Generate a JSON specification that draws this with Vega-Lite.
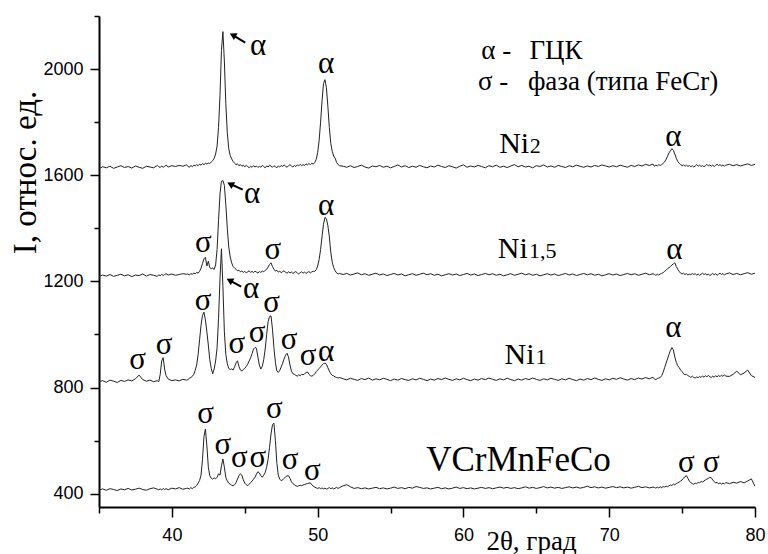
{
"$schema": "https://vega.github.io/schema/vega-lite/v6.json",
"width": 656, "height": 491,
"autosize": "none",
"padding": {"left": 99, "top": 16, "right": 13, "bottom": 47},
"background": "white",
"config": {"view": {"stroke": null}, "axis": {"grid": false}},
"datasets": {
"xrd": [
{"x":35.0,"a":1625,"b":1218,"c":822,"d":414},
{"x":35.25,"a":1632,"b":1224,"c":826,"d":418},
{"x":35.5,"a":1628,"b":1220,"c":820,"d":413},
{"x":35.75,"a":1634,"b":1226,"c":828,"d":419},
{"x":36.0,"a":1626,"b":1219,"c":824,"d":416},
{"x":36.25,"a":1631,"b":1223,"c":819,"d":412},
{"x":36.5,"a":1636,"b":1227,"c":827,"d":418},
{"x":36.75,"a":1629,"b":1221,"c":823,"d":415},
{"x":37.0,"a":1633,"b":1225,"c":829,"d":420},
{"x":37.25,"a":1627,"b":1218,"c":825,"d":414},
{"x":37.5,"a":1635,"b":1224,"c":833,"d":417},
{"x":37.75,"a":1630,"b":1222,"c":847,"d":421},
{"x":38.0,"a":1626,"b":1228,"c":830,"d":416},
{"x":38.25,"a":1634,"b":1220,"c":824,"d":413},
{"x":38.5,"a":1631,"b":1226,"c":828,"d":419},
{"x":38.75,"a":1628,"b":1223,"c":822,"d":422},
{"x":39.0,"a":1637,"b":1219,"c":826,"d":417},
{"x":39.1,"a":1632,"b":1225,"c":822,"d":415},
{"x":39.2,"a":1629,"b":1221,"c":850,"d":418},
{"x":39.3,"a":1635,"b":1227,"c":900,"d":414},
{"x":39.4,"a":1630,"b":1222,"c":913,"d":420},
{"x":39.5,"a":1633,"b":1226,"c":870,"d":416},
{"x":39.6,"a":1638,"b":1229,"c":845,"d":419},
{"x":39.75,"a":1631,"b":1224,"c":832,"d":415},
{"x":40.0,"a":1636,"b":1228,"c":826,"d":421},
{"x":40.25,"a":1633,"b":1223,"c":829,"d":418},
{"x":40.5,"a":1637,"b":1226,"c":825,"d":423},
{"x":40.75,"a":1634,"b":1229,"c":831,"d":417},
{"x":41.0,"a":1639,"b":1227,"c":828,"d":420},
{"x":41.1,"a":1634,"b":1228,"c":830,"d":421},
{"x":41.2,"a":1630,"b":1224,"c":835,"d":418},
{"x":41.3,"a":1637,"b":1230,"c":838,"d":423},
{"x":41.4,"a":1632,"b":1226,"c":842,"d":419},
{"x":41.5,"a":1638,"b":1232,"c":850,"d":424},
{"x":41.6,"a":1635,"b":1228,"c":865,"d":426},
{"x":41.7,"a":1640,"b":1234,"c":885,"d":431},
{"x":41.8,"a":1636,"b":1231,"c":925,"d":440},
{"x":41.9,"a":1642,"b":1238,"c":980,"d":450},
{"x":42.0,"a":1638,"b":1250,"c":1035,"d":470},
{"x":42.1,"a":1644,"b":1268,"c":1072,"d":530},
{"x":42.2,"a":1640,"b":1285,"c":1084,"d":615},
{"x":42.3,"a":1645,"b":1291,"c":1055,"d":644},
{"x":42.4,"a":1642,"b":1258,"c":1010,"d":580},
{"x":42.5,"a":1646,"b":1276,"c":960,"d":500},
{"x":42.6,"a":1644,"b":1252,"c":905,"d":468},
{"x":42.7,"a":1650,"b":1248,"c":872,"d":458},
{"x":42.8,"a":1655,"b":1250,"c":852,"d":455},
{"x":42.9,"a":1664,"b":1245,"c":870,"d":460},
{"x":43.0,"a":1680,"b":1262,"c":900,"d":456},
{"x":43.1,"a":1710,"b":1320,"c":950,"d":462},
{"x":43.2,"a":1780,"b":1430,"c":1060,"d":475},
{"x":43.3,"a":1900,"b":1530,"c":1210,"d":470},
{"x":43.4,"a":2070,"b":1577,"c":1323,"d":505},
{"x":43.5,"a":2141,"b":1580,"c":1180,"d":531},
{"x":43.6,"a":2030,"b":1562,"c":1010,"d":500},
{"x":43.7,"a":1870,"b":1490,"c":925,"d":462},
{"x":43.8,"a":1760,"b":1400,"c":890,"d":448},
{"x":43.9,"a":1700,"b":1330,"c":872,"d":440},
{"x":44.0,"a":1675,"b":1292,"c":868,"d":436},
{"x":44.1,"a":1662,"b":1270,"c":870,"d":432},
{"x":44.2,"a":1652,"b":1256,"c":866,"d":430},
{"x":44.3,"a":1645,"b":1250,"c":878,"d":434},
{"x":44.4,"a":1640,"b":1246,"c":893,"d":442},
{"x":44.5,"a":1643,"b":1240,"c":901,"d":455},
{"x":44.6,"a":1636,"b":1242,"c":880,"d":468},
{"x":44.7,"a":1640,"b":1236,"c":866,"d":475},
{"x":44.8,"a":1634,"b":1239,"c":863,"d":470},
{"x":44.9,"a":1638,"b":1234,"c":868,"d":452},
{"x":45.0,"a":1632,"b":1238,"c":872,"d":440},
{"x":45.1,"a":1637,"b":1232,"c":880,"d":434},
{"x":45.2,"a":1633,"b":1236,"c":888,"d":430},
{"x":45.3,"a":1628,"b":1240,"c":900,"d":436},
{"x":45.4,"a":1634,"b":1234,"c":912,"d":442},
{"x":45.5,"a":1630,"b":1238,"c":928,"d":448},
{"x":45.6,"a":1636,"b":1233,"c":945,"d":455},
{"x":45.7,"a":1631,"b":1239,"c":951,"d":462},
{"x":45.8,"a":1635,"b":1235,"c":948,"d":474},
{"x":45.9,"a":1629,"b":1232,"c":915,"d":483},
{"x":46.0,"a":1634,"b":1237,"c":885,"d":478},
{"x":46.1,"a":1630,"b":1234,"c":870,"d":468},
{"x":46.2,"a":1637,"b":1239,"c":880,"d":462},
{"x":46.3,"a":1633,"b":1236,"c":905,"d":470},
{"x":46.4,"a":1628,"b":1242,"c":945,"d":480},
{"x":46.5,"a":1635,"b":1246,"c":1000,"d":500},
{"x":46.6,"a":1631,"b":1254,"c":1048,"d":530},
{"x":46.7,"a":1638,"b":1264,"c":1068,"d":575},
{"x":46.8,"a":1634,"b":1270,"c":1070,"d":625},
{"x":46.9,"a":1630,"b":1256,"c":1020,"d":660},
{"x":47.0,"a":1636,"b":1246,"c":950,"d":666},
{"x":47.1,"a":1632,"b":1239,"c":895,"d":600},
{"x":47.2,"a":1628,"b":1242,"c":862,"d":515},
{"x":47.3,"a":1635,"b":1235,"c":857,"d":470},
{"x":47.4,"a":1631,"b":1238,"c":865,"d":455},
{"x":47.5,"a":1637,"b":1233,"c":878,"d":449},
{"x":47.6,"a":1633,"b":1237,"c":892,"d":452},
{"x":47.7,"a":1639,"b":1240,"c":908,"d":458},
{"x":47.8,"a":1634,"b":1234,"c":922,"d":464},
{"x":47.9,"a":1630,"b":1231,"c":929,"d":467},
{"x":48.0,"a":1636,"b":1236,"c":915,"d":468},
{"x":48.1,"a":1640,"b":1232,"c":885,"d":458},
{"x":48.2,"a":1635,"b":1235,"c":862,"d":445},
{"x":48.3,"a":1631,"b":1230,"c":852,"d":438},
{"x":48.4,"a":1637,"b":1234,"c":850,"d":434},
{"x":48.5,"a":1633,"b":1237,"c":846,"d":430},
{"x":48.6,"a":1639,"b":1232,"c":843,"d":428},
{"x":48.7,"a":1635,"b":1228,"c":848,"d":430},
{"x":48.8,"a":1641,"b":1233,"c":845,"d":432},
{"x":48.9,"a":1636,"b":1236,"c":850,"d":430},
{"x":49.0,"a":1640,"b":1231,"c":848,"d":433},
{"x":49.1,"a":1637,"b":1235,"c":852,"d":435},
{"x":49.2,"a":1643,"b":1230,"c":856,"d":437},
{"x":49.3,"a":1639,"b":1234,"c":859,"d":438},
{"x":49.4,"a":1644,"b":1237,"c":850,"d":440},
{"x":49.5,"a":1640,"b":1232,"c":845,"d":441},
{"x":49.6,"a":1645,"b":1236,"c":843,"d":434},
{"x":49.7,"a":1642,"b":1238,"c":846,"d":428},
{"x":49.8,"a":1648,"b":1238,"c":852,"d":425},
{"x":49.9,"a":1660,"b":1244,"c":860,"d":422},
{"x":50.0,"a":1685,"b":1258,"c":866,"d":420},
{"x":50.1,"a":1730,"b":1282,"c":872,"d":423},
{"x":50.2,"a":1800,"b":1320,"c":878,"d":419},
{"x":50.3,"a":1880,"b":1370,"c":885,"d":422},
{"x":50.4,"a":1945,"b":1415,"c":890,"d":418},
{"x":50.5,"a":1960,"b":1441,"c":892,"d":421},
{"x":50.6,"a":1930,"b":1436,"c":888,"d":417},
{"x":50.7,"a":1860,"b":1410,"c":875,"d":420},
{"x":50.8,"a":1780,"b":1368,"c":862,"d":423},
{"x":50.9,"a":1720,"b":1310,"c":852,"d":419},
{"x":51.0,"a":1690,"b":1272,"c":846,"d":422},
{"x":51.1,"a":1672,"b":1252,"c":844,"d":418},
{"x":51.2,"a":1664,"b":1240,"c":840,"d":421},
{"x":51.3,"a":1648,"b":1232,"c":838,"d":424},
{"x":51.4,"a":1640,"b":1228,"c":836,"d":420},
{"x":51.5,"a":1636,"b":1230,"c":838,"d":423},
{"x":51.75,"a":1634,"b":1226,"c":833,"d":430},
{"x":52.0,"a":1630,"b":1230,"c":829,"d":434},
{"x":52.25,"a":1636,"b":1224,"c":835,"d":426},
{"x":52.5,"a":1629,"b":1228,"c":831,"d":420},
{"x":52.75,"a":1633,"b":1232,"c":827,"d":423},
{"x":53.0,"a":1638,"b":1225,"c":834,"d":419},
{"x":53.25,"a":1631,"b":1229,"c":830,"d":422},
{"x":53.5,"a":1627,"b":1223,"c":836,"d":418},
{"x":53.75,"a":1635,"b":1227,"c":828,"d":421},
{"x":54.0,"a":1632,"b":1231,"c":833,"d":424},
{"x":54.25,"a":1637,"b":1224,"c":829,"d":419},
{"x":54.5,"a":1630,"b":1228,"c":835,"d":422},
{"x":54.75,"a":1634,"b":1222,"c":831,"d":418},
{"x":55.0,"a":1628,"b":1226,"c":826,"d":421},
{"x":55.25,"a":1633,"b":1230,"c":832,"d":425},
{"x":55.5,"a":1639,"b":1224,"c":828,"d":420},
{"x":55.75,"a":1631,"b":1228,"c":834,"d":423},
{"x":56.0,"a":1636,"b":1221,"c":830,"d":419},
{"x":56.25,"a":1629,"b":1225,"c":827,"d":424},
{"x":56.5,"a":1634,"b":1229,"c":833,"d":421},
{"x":56.75,"a":1630,"b":1223,"c":829,"d":427},
{"x":57.0,"a":1637,"b":1227,"c":835,"d":424},
{"x":57.25,"a":1632,"b":1231,"c":831,"d":420},
{"x":57.5,"a":1628,"b":1225,"c":826,"d":422},
{"x":57.75,"a":1635,"b":1229,"c":832,"d":418},
{"x":58.0,"a":1631,"b":1223,"c":828,"d":421},
{"x":58.25,"a":1638,"b":1227,"c":834,"d":424},
{"x":58.5,"a":1633,"b":1221,"c":830,"d":419},
{"x":58.75,"a":1629,"b":1225,"c":836,"d":422},
{"x":59.0,"a":1636,"b":1229,"c":831,"d":418},
{"x":59.25,"a":1632,"b":1224,"c":827,"d":421},
{"x":59.5,"a":1627,"b":1228,"c":833,"d":425},
{"x":59.75,"a":1634,"b":1222,"c":829,"d":420},
{"x":60.0,"a":1639,"b":1226,"c":835,"d":423},
{"x":60.25,"a":1630,"b":1230,"c":830,"d":419},
{"x":60.5,"a":1635,"b":1224,"c":826,"d":422},
{"x":60.75,"a":1631,"b":1228,"c":832,"d":418},
{"x":61.0,"a":1637,"b":1222,"c":828,"d":421},
{"x":61.25,"a":1633,"b":1226,"c":834,"d":424},
{"x":61.5,"a":1628,"b":1230,"c":830,"d":420},
{"x":61.75,"a":1636,"b":1225,"c":836,"d":423},
{"x":62.0,"a":1632,"b":1229,"c":831,"d":419},
{"x":62.25,"a":1638,"b":1223,"c":827,"d":422},
{"x":62.5,"a":1630,"b":1227,"c":833,"d":425},
{"x":62.75,"a":1634,"b":1221,"c":829,"d":421},
{"x":63.0,"a":1629,"b":1225,"c":835,"d":424},
{"x":63.25,"a":1635,"b":1229,"c":830,"d":420},
{"x":63.5,"a":1640,"b":1223,"c":826,"d":423},
{"x":63.75,"a":1632,"b":1227,"c":832,"d":419},
{"x":64.0,"a":1637,"b":1231,"c":828,"d":422},
{"x":64.25,"a":1631,"b":1225,"c":834,"d":426},
{"x":64.5,"a":1634,"b":1229,"c":830,"d":421},
{"x":64.75,"a":1628,"b":1223,"c":836,"d":424},
{"x":65.0,"a":1636,"b":1227,"c":831,"d":420},
{"x":65.25,"a":1633,"b":1221,"c":827,"d":423},
{"x":65.5,"a":1639,"b":1225,"c":833,"d":427},
{"x":65.75,"a":1631,"b":1229,"c":829,"d":422},
{"x":66.0,"a":1635,"b":1224,"c":835,"d":425},
{"x":66.25,"a":1630,"b":1228,"c":831,"d":421},
{"x":66.5,"a":1637,"b":1222,"c":827,"d":424},
{"x":66.75,"a":1633,"b":1226,"c":833,"d":420},
{"x":67.0,"a":1629,"b":1230,"c":829,"d":423},
{"x":67.25,"a":1636,"b":1224,"c":835,"d":426},
{"x":67.5,"a":1632,"b":1228,"c":830,"d":422},
{"x":67.75,"a":1638,"b":1222,"c":826,"d":425},
{"x":68.0,"a":1634,"b":1226,"c":832,"d":421},
{"x":68.25,"a":1630,"b":1230,"c":828,"d":424},
{"x":68.5,"a":1635,"b":1225,"c":834,"d":428},
{"x":68.75,"a":1631,"b":1229,"c":830,"d":423},
{"x":69.0,"a":1637,"b":1223,"c":836,"d":426},
{"x":69.25,"a":1633,"b":1227,"c":831,"d":422},
{"x":69.5,"a":1639,"b":1221,"c":827,"d":425},
{"x":69.75,"a":1635,"b":1225,"c":833,"d":421},
{"x":70.0,"a":1631,"b":1229,"c":829,"d":424},
{"x":70.25,"a":1636,"b":1224,"c":835,"d":427},
{"x":70.5,"a":1632,"b":1228,"c":831,"d":423},
{"x":70.75,"a":1638,"b":1222,"c":837,"d":426},
{"x":71.0,"a":1634,"b":1226,"c":832,"d":422},
{"x":71.25,"a":1630,"b":1230,"c":828,"d":425},
{"x":71.5,"a":1637,"b":1225,"c":834,"d":421},
{"x":71.75,"a":1633,"b":1229,"c":830,"d":424},
{"x":72.0,"a":1639,"b":1223,"c":836,"d":428},
{"x":72.25,"a":1635,"b":1227,"c":832,"d":423},
{"x":72.5,"a":1641,"b":1231,"c":838,"d":426},
{"x":72.75,"a":1637,"b":1225,"c":833,"d":422},
{"x":73.0,"a":1642,"b":1229,"c":839,"d":425},
{"x":73.1,"a":1634,"b":1226,"c":832,"d":424},
{"x":73.2,"a":1638,"b":1223,"c":830,"d":421},
{"x":73.3,"a":1635,"b":1227,"c":834,"d":425},
{"x":73.4,"a":1640,"b":1224,"c":836,"d":422},
{"x":73.5,"a":1637,"b":1228,"c":838,"d":426},
{"x":73.6,"a":1640,"b":1230,"c":845,"d":423},
{"x":73.7,"a":1645,"b":1233,"c":858,"d":427},
{"x":73.8,"a":1650,"b":1238,"c":875,"d":425},
{"x":73.9,"a":1660,"b":1242,"c":892,"d":429},
{"x":74.0,"a":1672,"b":1248,"c":908,"d":426},
{"x":74.1,"a":1684,"b":1252,"c":925,"d":430},
{"x":74.2,"a":1692,"b":1256,"c":940,"d":433},
{"x":74.3,"a":1700,"b":1262,"c":951,"d":431},
{"x":74.4,"a":1694,"b":1266,"c":942,"d":436},
{"x":74.5,"a":1680,"b":1270,"c":915,"d":434},
{"x":74.6,"a":1664,"b":1256,"c":895,"d":438},
{"x":74.7,"a":1652,"b":1246,"c":882,"d":441},
{"x":74.8,"a":1645,"b":1238,"c":875,"d":444},
{"x":74.9,"a":1640,"b":1231,"c":866,"d":448},
{"x":75.0,"a":1636,"b":1228,"c":860,"d":452},
{"x":75.1,"a":1639,"b":1231,"c":852,"d":458},
{"x":75.2,"a":1634,"b":1226,"c":848,"d":465},
{"x":75.3,"a":1638,"b":1229,"c":850,"d":468},
{"x":75.4,"a":1633,"b":1224,"c":845,"d":458},
{"x":75.5,"a":1637,"b":1228,"c":842,"d":447},
{"x":75.6,"a":1632,"b":1225,"c":838,"d":442},
{"x":75.7,"a":1636,"b":1230,"c":843,"d":438},
{"x":75.8,"a":1631,"b":1226,"c":838,"d":436},
{"x":75.9,"a":1635,"b":1229,"c":836,"d":440},
{"x":76.0,"a":1640,"b":1224,"c":840,"d":438},
{"x":76.1,"a":1634,"b":1228,"c":837,"d":443},
{"x":76.2,"a":1638,"b":1223,"c":842,"d":441},
{"x":76.3,"a":1633,"b":1227,"c":838,"d":446},
{"x":76.4,"a":1637,"b":1231,"c":844,"d":444},
{"x":76.5,"a":1632,"b":1226,"c":839,"d":448},
{"x":76.6,"a":1636,"b":1229,"c":845,"d":452},
{"x":76.7,"a":1641,"b":1224,"c":840,"d":455},
{"x":76.8,"a":1635,"b":1228,"c":846,"d":458},
{"x":76.9,"a":1639,"b":1222,"c":841,"d":462},
{"x":77.0,"a":1634,"b":1226,"c":838,"d":460},
{"x":77.1,"a":1638,"b":1230,"c":843,"d":452},
{"x":77.2,"a":1633,"b":1225,"c":839,"d":446},
{"x":77.3,"a":1637,"b":1229,"c":845,"d":440},
{"x":77.4,"a":1642,"b":1223,"c":840,"d":443},
{"x":77.5,"a":1636,"b":1227,"c":846,"d":437},
{"x":77.6,"a":1640,"b":1231,"c":841,"d":441},
{"x":77.7,"a":1635,"b":1226,"c":847,"d":436},
{"x":77.8,"a":1639,"b":1230,"c":842,"d":440},
{"x":77.9,"a":1634,"b":1224,"c":848,"d":437},
{"x":78.0,"a":1638,"b":1228,"c":843,"d":442},
{"x":78.25,"a":1641,"b":1232,"c":842,"d":438},
{"x":78.5,"a":1636,"b":1226,"c":850,"d":443},
{"x":78.75,"a":1640,"b":1230,"c":862,"d":440},
{"x":79.0,"a":1635,"b":1225,"c":848,"d":446},
{"x":79.25,"a":1639,"b":1229,"c":855,"d":441},
{"x":79.5,"a":1643,"b":1233,"c":866,"d":448},
{"x":79.75,"a":1637,"b":1227,"c":845,"d":456},
{"x":80.0,"a":1641,"b":1231,"c":838,"d":428}
],
"ann": [
{"x":45.91,"y":2054,"t":"α"},
{"x":50.58,"y":1987,"t":"α"},
{"x":74.40,"y":1709,"t":"α"},
{"x":42.16,"y":1310,"t":"σ"},
{"x":45.5,"y":1497,"t":"α"},
{"x":46.92,"y":1283,"t":"σ"},
{"x":50.58,"y":1450,"t":"α"},
{"x":74.47,"y":1283,"t":"α"},
{"x":37.65,"y":869,"t":"σ"},
{"x":39.46,"y":926,"t":"σ"},
{"x":42.14,"y":1091,"t":"σ"},
{"x":45.43,"y":1139,"t":"α"},
{"x":44.45,"y":929,"t":"σ"},
{"x":45.84,"y":972,"t":"σ"},
{"x":46.84,"y":1085,"t":"σ"},
{"x":48.04,"y":947,"t":"σ"},
{"x":49.34,"y":884,"t":"σ"},
{"x":50.58,"y":901,"t":"α"},
{"x":74.40,"y":989,"t":"α"},
{"x":42.32,"y":666,"t":"σ"},
{"x":43.49,"y":550,"t":"σ"},
{"x":44.63,"y":500,"t":"σ"},
{"x":45.89,"y":500,"t":"σ"},
{"x":47.03,"y":684,"t":"σ"},
{"x":48.11,"y":493,"t":"σ"},
{"x":49.64,"y":453,"t":"σ"},
{"x":75.29,"y":483,"t":"σ"},
{"x":77.0,"y":483,"t":"σ"}
],
"ni": [
{"x":62.45,"y":1685,"t":"Ni"},
{"x":62.36,"y":1289,"t":"Ni"},
{"x":62.82,"y":888,"t":"Ni"}
],
"sub": [
{"x":64.55,"y":1685,"t":"2"},
{"x":64.5,"y":1289,"t":"1,5"},
{"x":64.95,"y":888,"t":"1"}
],
"vc": [
{"x":57.44,"y":487,"t":"VCrMnFeCo"}
],
"leg": [
{"x":61.22,"y":2038,"t":"α -"},
{"x":64.53,"y":2038,"t":"ГЦК"},
{"x":60.99,"y":1920,"t":"σ -"},
{"x":64.42,"y":1920,"t":"фаза (типа FeCr)"}
],
"arr": [
{"x":45.03,"y":2100,"x2":44.18,"y2":2128},
{"x":44.86,"y":1546,"x2":44.01,"y2":1567},
{"x":44.75,"y":1180,"x2":43.96,"y2":1204}
],
"head": [
{"x":44.18,"y":2128},
{"x":44.01,"y":1567},
{"x":43.96,"y":1204}
]
},
"layer": [
{
"data": {"name": "xrd"},
"transform": [{"fold": ["a", "b", "c", "d"], "as": ["s", "y"]}],
"mark": {"type": "line", "color": "#222222", "strokeWidth": 1, "clip": true},
"encoding": {
"x": {"field": "x", "type": "quantitative",
"scale": {"domain": [35, 80], "nice": false, "zero": false},
"axis": {"title": "2θ, град", "values": [35, 40, 45, 50, 55, 60, 65, 70, 75, 80],
"labelExpr": "datum.value % 10 === 0 ? datum.label : ''", "format": "d",
"tickSize": {"condition": {"test": "datum.value % 10 === 0", "value": 10}, "value": 6},
"tickWidth": 1.5, "tickColor": "#000000", "domainColor": "#000000", "domainWidth": 2,
"labelFont": "Liberation Sans, Arial, sans-serif", "labelFontSize": 18, "labelColor": "#000000", "labelPadding": 9,
"labelFlush": false, "labelOverlap": false,
"titleFont": "Liberation Serif, Times New Roman, serif", "titleFontSize": 27, "titleFontWeight": "normal", "titleColor": "#000000",
"titleX": 432, "titleY": 42, "titleAlign": "center", "titleBaseline": "alphabetic"}},
"y": {"field": "y", "type": "quantitative",
"scale": {"domain": [350, 2200], "nice": false, "zero": false},
"axis": {"title": "I, относ. ед.", "values": [400, 600, 800, 1000, 1200, 1400, 1600, 1800, 2000, 2200],
"labelExpr": "datum.value % 400 === 0 ? datum.label : ''", "format": "d",
"tickSize": {"condition": {"test": "datum.value % 400 === 0", "value": 9}, "value": 5},
"tickWidth": 1.5, "tickColor": "#000000", "domainColor": "#000000", "domainWidth": 2,
"labelFont": "Liberation Sans, Arial, sans-serif", "labelFontSize": 18, "labelColor": "#000000", "labelPadding": 7,
"labelOverlap": false, "labelFlush": false,
"titleFont": "Liberation Serif, Times New Roman, serif", "titleFontSize": 33, "titleFontWeight": "normal", "titleColor": "#000000",
"titleX": -74, "titleY": 156, "titleAngle": 270, "titleAlign": "center", "titleBaseline": "middle"}},
"detail": {"field": "s"}
}
},
{
"data": {"name": "arr"},
"mark": {"type": "rule", "color": "#000000", "strokeWidth": 2},
"encoding": {
"x": {"field": "x", "type": "quantitative"},
"y": {"field": "y", "type": "quantitative"},
"x2": {"field": "x2"},
"y2": {"field": "y2"}
}
},
{
"data": {"name": "head"},
"mark": {"type": "point", "shape": "triangle-up", "filled": true, "size": 60, "angle": 298, "color": "#000000", "opacity": 1},
"encoding": {
"x": {"field": "x", "type": "quantitative"},
"y": {"field": "y", "type": "quantitative"}
}
},
{
"data": {"name": "ann"},
"mark": {"type": "text", "font": "Liberation Serif, Times New Roman, serif", "fontSize": 31, "align": "center", "baseline": "alphabetic", "color": "#000000"},
"encoding": {
"x": {"field": "x", "type": "quantitative"},
"y": {"field": "y", "type": "quantitative"},
"text": {"field": "t"}
}
},
{
"data": {"name": "ni"},
"mark": {"type": "text", "font": "Liberation Serif, Times New Roman, serif", "fontSize": 30, "align": "left", "baseline": "alphabetic", "color": "#000000"},
"encoding": {
"x": {"field": "x", "type": "quantitative"},
"y": {"field": "y", "type": "quantitative"},
"text": {"field": "t"}
}
},
{
"data": {"name": "sub"},
"mark": {"type": "text", "font": "Liberation Serif, Times New Roman, serif", "fontSize": 22, "align": "left", "baseline": "alphabetic", "color": "#000000"},
"encoding": {
"x": {"field": "x", "type": "quantitative"},
"y": {"field": "y", "type": "quantitative"},
"text": {"field": "t"}
}
},
{
"data": {"name": "vc"},
"mark": {"type": "text", "font": "Liberation Serif, Times New Roman, serif", "fontSize": 35, "align": "left", "baseline": "alphabetic", "color": "#000000"},
"encoding": {
"x": {"field": "x", "type": "quantitative"},
"y": {"field": "y", "type": "quantitative"},
"text": {"field": "t"}
}
},
{
"data": {"name": "leg"},
"mark": {"type": "text", "font": "Liberation Serif, Times New Roman, serif", "fontSize": 27, "align": "left", "baseline": "alphabetic", "color": "#000000"},
"encoding": {
"x": {"field": "x", "type": "quantitative"},
"y": {"field": "y", "type": "quantitative"},
"text": {"field": "t"}
}
}
]
}
